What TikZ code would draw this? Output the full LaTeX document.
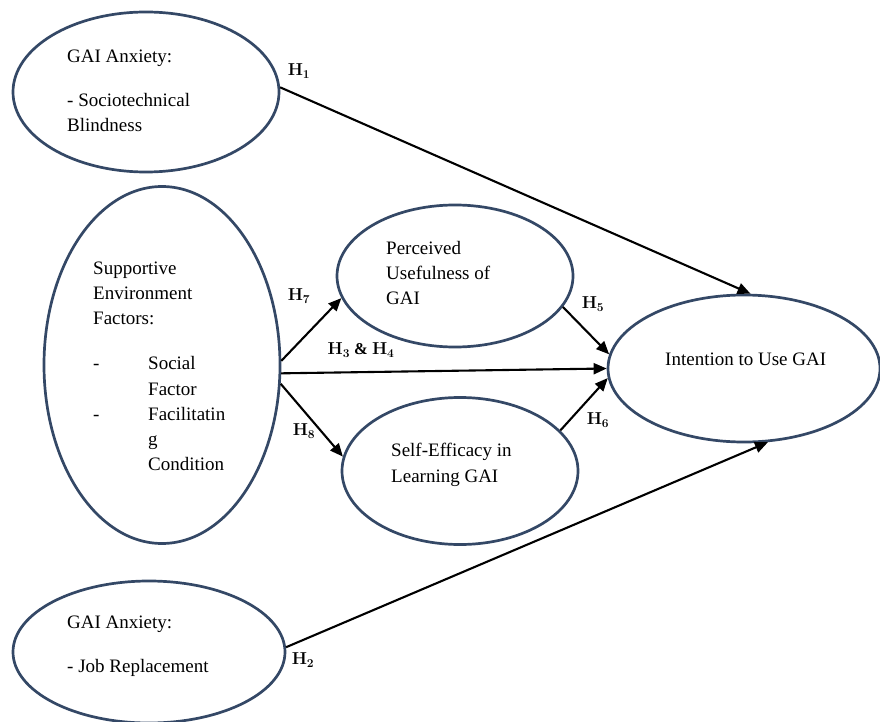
\documentclass[tikz,border=0pt]{standalone}
\usepackage{fontspec}
\setmainfont{Liberation Serif}
\usetikzlibrary{arrows.meta,shapes.geometric}
\definecolor{ellcol}{RGB}{52,72,102}
\begin{document}
\begin{tikzpicture}[x=1pt,y=-1pt,
  ell/.style={draw=ellcol, line width=2.7pt, ellipse, inner sep=0pt},
  txt/.style={anchor=base west, inner sep=0pt, font=\fontsize{19}{25}\selectfont},
  hyp/.style={inner sep=0pt, font=\fontsize{16.5}{18}\selectfont\boldmath},
  arr/.style={line width=2.1pt, -{Triangle[length=13pt,width=11pt]}}]
\useasboundingbox (0,0) rectangle (880,722);

% ellipses
\node[ell, minimum width=266, minimum height=160] (ga) at (146,92) {};
\node[ell, minimum width=236, minimum height=357] (se) at (162,365) {};
\node[ell, minimum width=236, minimum height=142] (pu) at (455,276) {};
\node[ell, minimum width=236, minimum height=147] (sf) at (460,471) {};
\node[ell, minimum width=272, minimum height=147] (iu) at (744,368.5) {};
\node[ell, minimum width=272, minimum height=142] (jr) at (149,652) {};

% texts
\node[txt] (ga1) at (67,63) {GAI Anxiety:};
\node[txt] (ga2) at (67,107) {- Sociotechnical};
\node[txt] (ga3) at (67,132) {Blindness};

\node[txt] (se1) at (93,274) {Supportive};
\node[txt] (se2) at (93,299) {Environment};
\node[txt] (se3) at (93,324) {Factors:};
\node[txt] (se4) at (93,369) {-};
\node[txt] (se5) at (148,369) {Social};
\node[txt] (se6) at (148,395) {Factor};
\node[txt] (se7) at (93,420) {-};
\node[txt] (se8) at (148,420) {Facilitatin};
\node[txt] (se9) at (148,445) {g};
\node[txt] (se10) at (148,470) {Condition};

\node[txt] (pu1) at (386,254) {Perceived};
\node[txt] (pu2) at (386,279) {Usefulness of};
\node[txt] (pu3) at (386,304) {GAI};

\node[txt] (sf1) at (391,456) {Self-Efficacy in};
\node[txt] (sf2) at (391,482) {Learning GAI};

\node[txt] (iu1) at (665,365) {Intention to Use GAI};

\node[txt] (jr1) at (67,628) {GAI Anxiety:};
\node[txt] (jr2) at (67,672) {- Job Replacement};

% connectors
\draw[arr] (ga.2) -- (iu.85);
\draw[arr] (jr.2) -- (iu.-72);
\draw[arr] (se.2) -- (pu.191);
\draw[arr] (se.-4) -- (iu.180);
\draw[arr] (se.-9) -- (sf.173);
\draw[arr] (pu.-16) -- (iu.174);
\draw[arr] (sf.22) -- (iu.184);

% hypothesis labels
\node[hyp] (h1) at (299,71) {$\mathbf{H_1}$};
\node[hyp] (h7) at (299,296) {$\mathbf{H_7}$};
\node[hyp] (h34) at (361,350) {$\mathbf{H_3}$ \textbf{\&} $\mathbf{H_4}$};
\node[hyp] (h8) at (304,431) {$\mathbf{H_8}$};
\node[hyp] (h5) at (593,304) {$\mathbf{H_5}$};
\node[hyp] (h6) at (598,420) {$\mathbf{H_6}$};
\node[hyp] (h2) at (303,660) {$\mathbf{H_2}$};
\end{tikzpicture}
\end{document}
